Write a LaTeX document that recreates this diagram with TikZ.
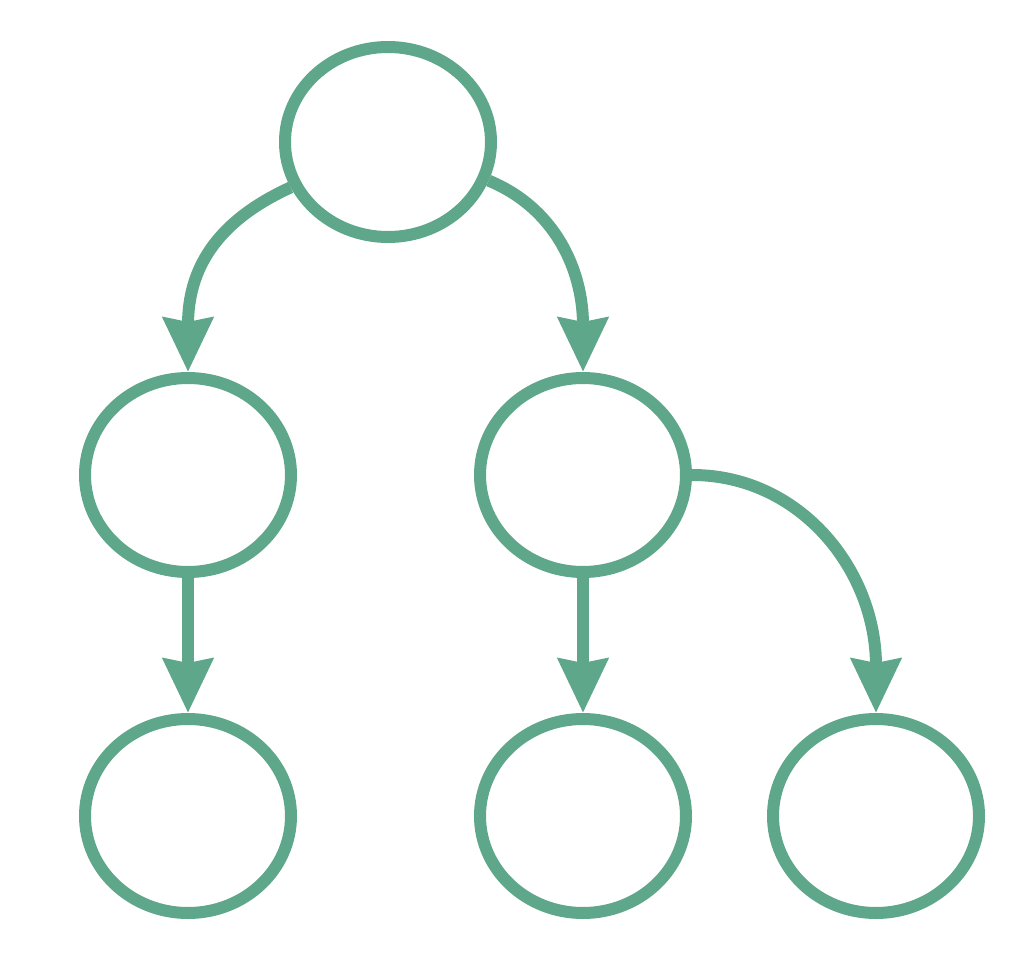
\documentclass[tikz,border=0pt]{standalone}
\usetikzlibrary{shapes.geometric,arrows.meta}
\definecolor{tg}{HTML}{5FA78A}
\begin{document}
\begin{tikzpicture}[x=1pt,y=-1pt,
  vert/.style={ellipse,draw=tg,line width=12pt,minimum width=206pt,minimum height=194pt,inner sep=0pt,outer sep=6pt},
  edge/.style={draw=tg,line width=12pt,-{Stealth[length=54pt,width=49pt,inset=4pt]},tg}]
\useasboundingbox (0,0) rectangle (1026,960);
\node[vert,minimum height=190pt] (t) at (388,142) {};
\node[vert] (ml) at (188,475) {};
\node[vert] (mr) at (583,475) {};
\node[vert] (bl) at (188,816) {};
\node[vert] (bm) at (583,816) {};
\node[vert] (br) at (876,816) {};
\draw[edge] (t.205) .. controls (215,222) and (188,270) .. (ml.north);
\draw[edge] (t.-21) .. controls (555,208) and (583,270) .. (mr.north);
\draw[edge] (ml.south) -- (bl.north);
\draw[edge] (mr.south) -- (bm.north);
\draw[edge] (mr.east) .. controls (800,475) and (876,570) .. (br.north);
\end{tikzpicture}
\end{document}
